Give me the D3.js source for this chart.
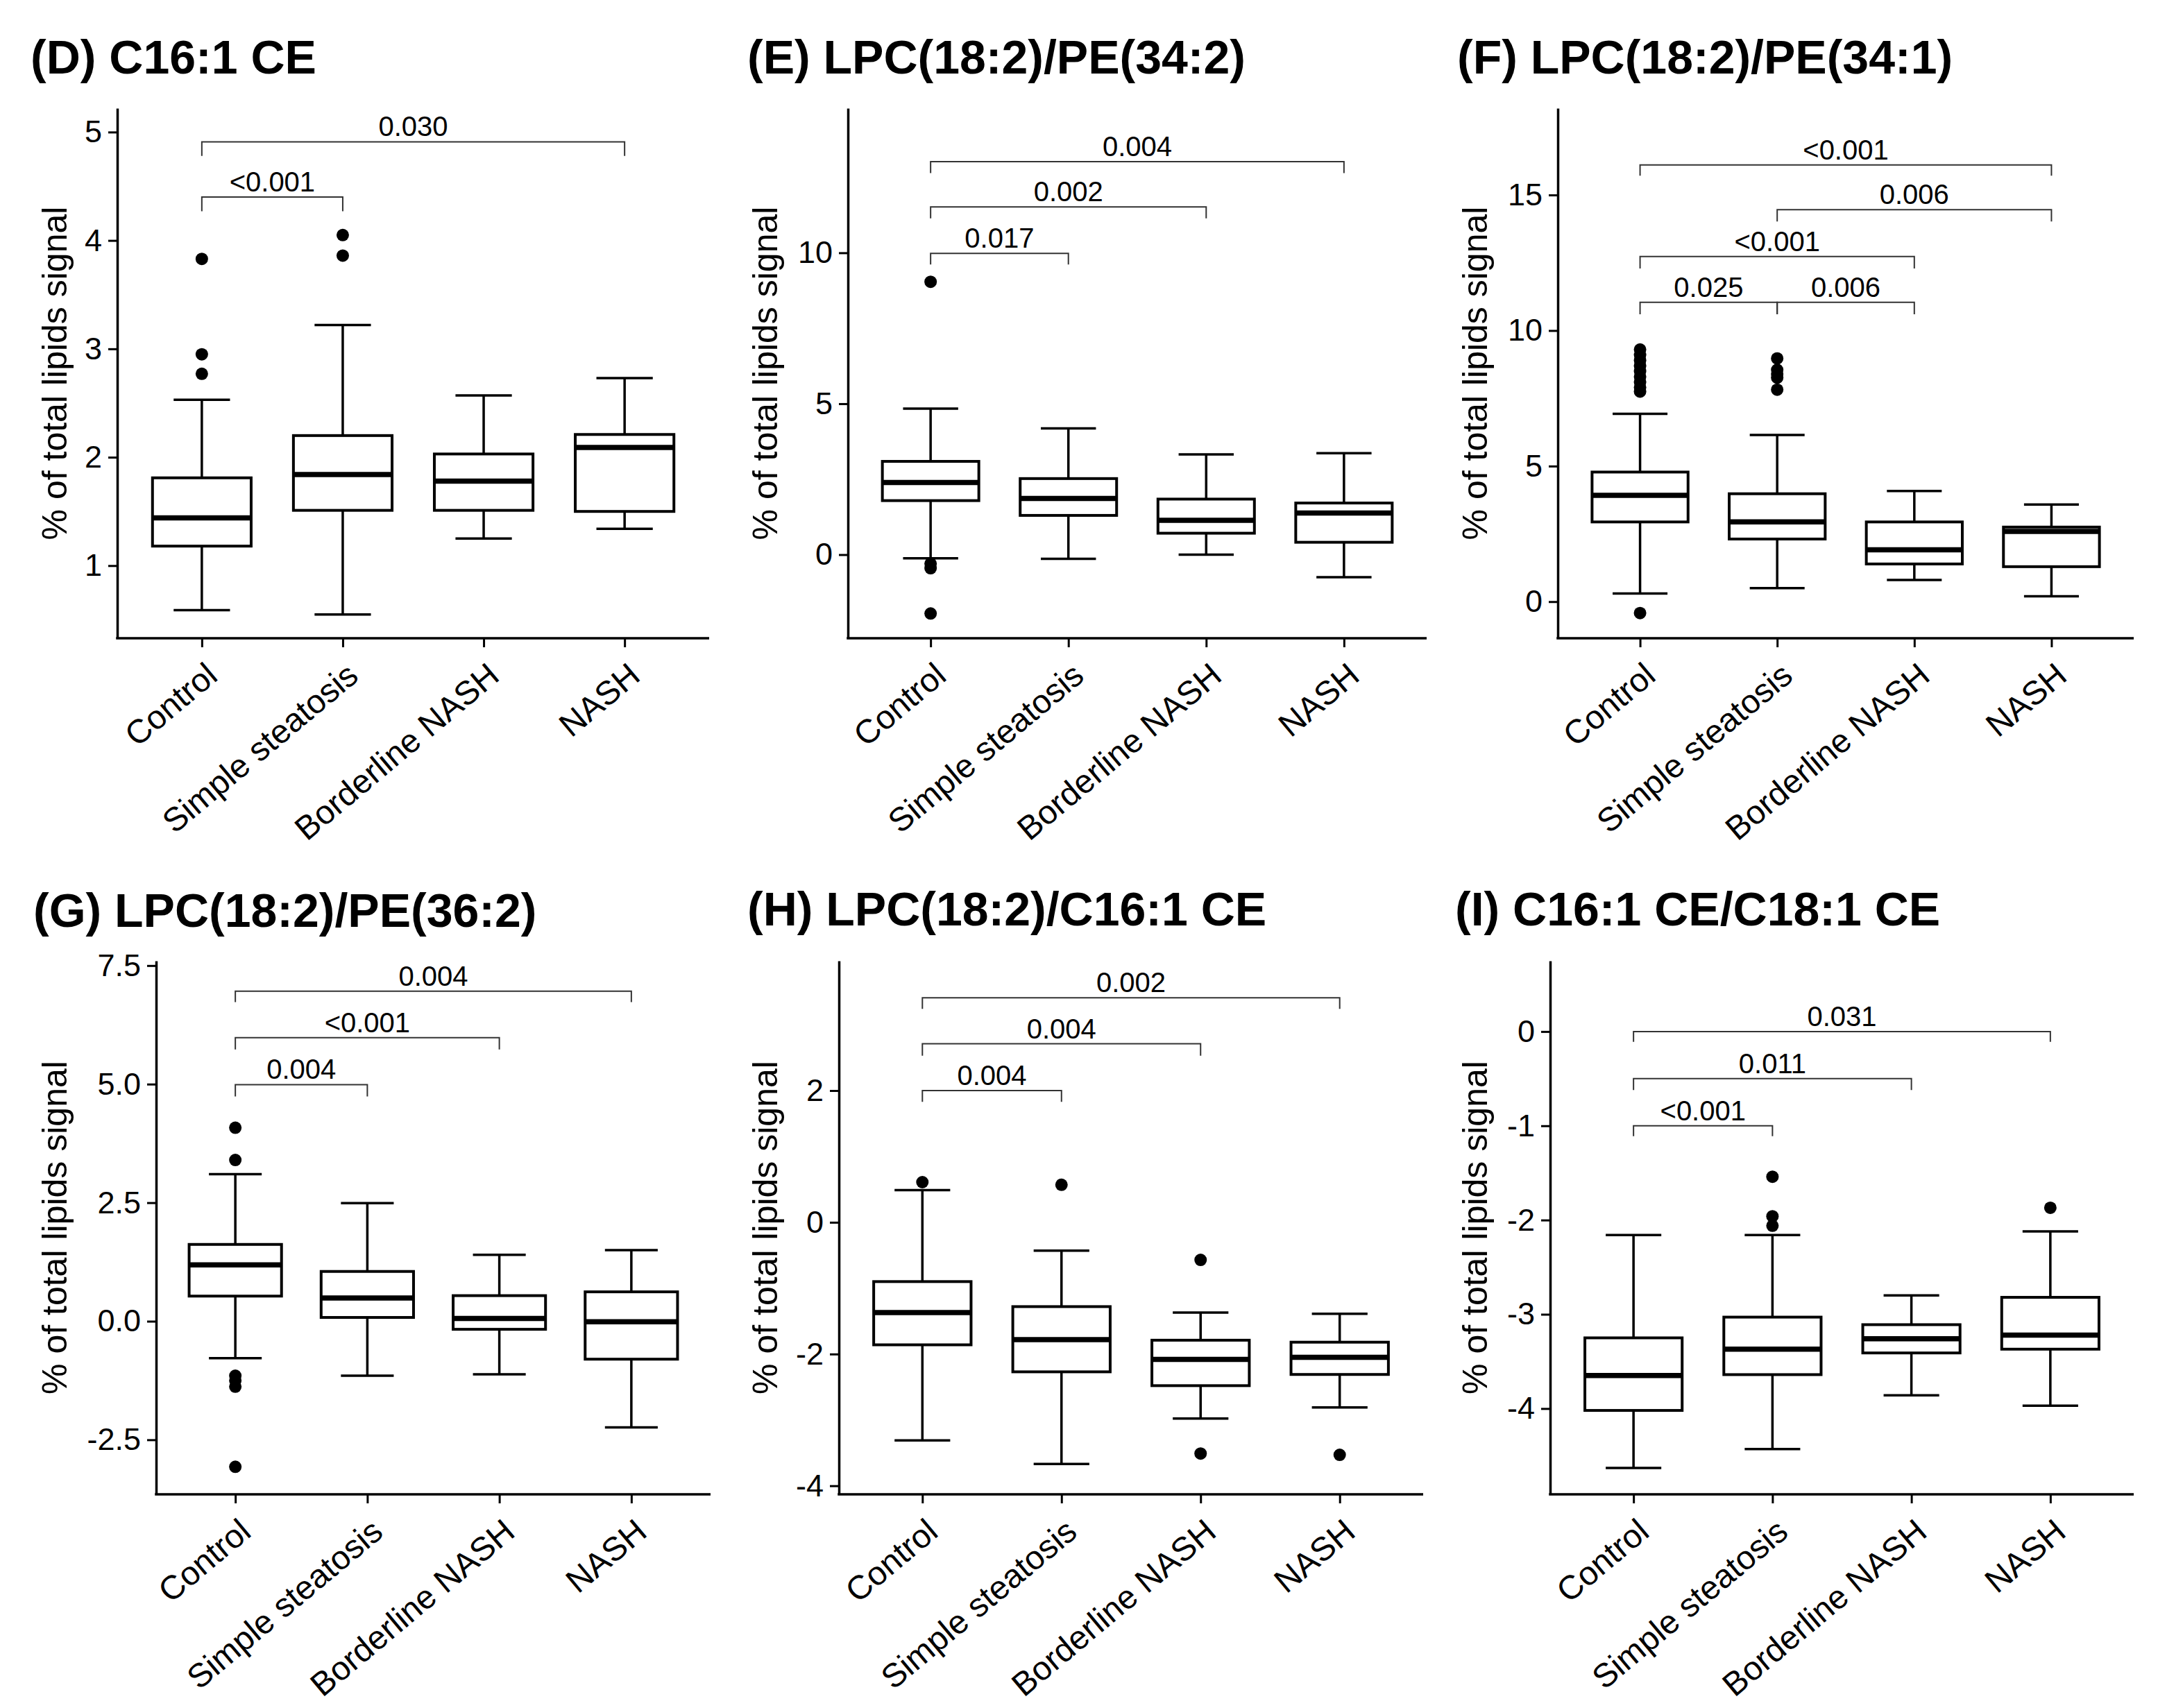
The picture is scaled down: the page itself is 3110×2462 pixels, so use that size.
<!DOCTYPE html>
<html>
<head>
<meta charset="utf-8">
<script src="https://cdn.jsdelivr.net/npm/d3@7"></script>
<style>
  body { margin: 0; background: #fff; }
  svg { display: block; font-family: "Liberation Sans", Arial, sans-serif; }
</style>
</head>
<body>
<svg id="chart" width="3110" height="2462"></svg>
<script>
const groups = ["Control", "Simple steatosis", "Borderline NASH", "NASH"];

// box stats per group: [lower whisker, Q1, median, Q3, upper whisker]
// brackets: [from group, to group, bar value, tip value, label]

// (D) C16:1 CE
const statsD = [[0.59, 1.18, 1.44, 1.81, 2.53], [0.55, 1.51, 1.84, 2.20, 3.22], [1.25, 1.51, 1.78, 2.03, 2.57], [1.34, 1.50, 2.09, 2.21, 2.73]];
const outliersD = [[3.83, 2.95, 2.77], [4.05, 3.86], [], []];
const ticksD = [1, 2, 3, 4, 5];
const domainD = [0.33, 5.22];
const bracketsD = [[0, 3, 4.91, 4.78, "0.030"], [0, 1, 4.40, 4.27, "<0.001"]];

// (E) LPC(18:2)/PE(34:2)
const statsE = [[-0.12, 1.79, 2.39, 3.09, 4.84], [-0.14, 1.30, 1.86, 2.52, 4.18], [0.0, 0.71, 1.14, 1.84, 3.32], [-0.75, 0.41, 1.38, 1.71, 3.36]];
const outliersE = [[9.04, -0.30, -0.45, -1.95], [], [], []];
const ticksE = [0, 5, 10];
const domainE = [-2.77, 14.79];
const bracketsE = [[0, 3, 13.02, 12.64, "0.004"], [0, 2, 11.52, 11.14, "0.002"], [0, 1, 9.98, 9.61, "0.017"]];

// (F) LPC(18:2)/PE(34:1)
const statsF = [[0.30, 2.94, 3.92, 4.78, 6.93], [0.50, 2.31, 2.94, 3.98, 6.15], [0.80, 1.39, 1.91, 2.94, 4.08], [0.20, 1.29, 2.59, 2.75, 3.58]];
const outliersF = [[9.3, 9.1, 8.9, 8.7, 8.5, 8.3, 8.1, 7.9, 7.75, -0.42], [8.97, 8.55, 8.4, 8.26, 7.82], [], []];
const ticksF = [0, 5, 10, 15];
const domainF = [-1.35, 18.2];
const bracketsF = [[0, 3, 16.11, 15.71, "<0.001"], [1, 3, 14.46, 14.02, "0.006"], [0, 2, 12.73, 12.29, "<0.001"], [0, 1, 11.04, 10.6, "0.025"], [1, 2, 11.04, 10.6, "0.006"]];

// (G) LPC(18:2)/PE(36:2)
const statsG = [[-0.78, 0.53, 1.19, 1.62, 3.10], [-1.15, 0.08, 0.49, 1.05, 2.49], [-1.12, -0.17, 0.06, 0.54, 1.40], [-2.24, -0.80, -0.01, 0.62, 1.50]];
const outliersG = [[4.08, 3.40, -1.15, -1.25, -1.38, -3.07], [], [], []];
const ticksG = [-2.5, 0, 2.5, 5, 7.5];
const domainG = [-3.65, 7.6];
const bracketsG = [[0, 3, 6.96, 6.73, "0.004"], [0, 2, 5.98, 5.73, "<0.001"], [0, 1, 4.99, 4.74, "0.004"]];

// (H) LPC(18:2)/C16:1 CE
const statsH = [[-3.31, -1.86, -1.37, -0.90, 0.49], [-3.67, -2.27, -1.78, -1.28, -0.43], [-2.98, -2.48, -2.08, -1.79, -1.37], [-2.81, -2.31, -2.05, -1.82, -1.39]];
const outliersH = [[0.61], [0.57], [-0.57, -3.51], [-3.53]];
const ticksH = [-4, -2, 0, 2];
const domainH = [-4.13, 3.97];
const bracketsH = [[0, 3, 3.41, 3.24, "0.002"], [0, 2, 2.71, 2.53, "0.004"], [0, 1, 2.0, 1.83, "0.004"]];

// (I) C16:1 CE/C18:1 CE
const statsI = [[-4.63, -4.02, -3.65, -3.25, -2.16], [-4.43, -3.64, -3.37, -3.03, -2.16], [-3.86, -3.41, -3.26, -3.11, -2.80], [-3.97, -3.37, -3.22, -2.82, -2.12]];
const outliersI = [[], [-1.54, -1.96, -2.06], [], [-1.87]];
const ticksI = [-4, -3, -2, -1, 0];
const domainI = [-4.91, 0.75];
const bracketsI = [[0, 3, 0.0, -0.11, "0.031"], [0, 2, -0.50, -0.62, "0.011"], [0, 1, -1.0, -1.11, "<0.001"]];

const panels = [
  { title: "(D) C16:1 CE", stats: statsD, outliers: outliersD, ticks: ticksD, domain: domainD, brackets: bracketsD, fmt: d3.format("d"),
    x0: 169, x1: 1022, y0: 156, y1: 920, titleX: 44, titleY: 106, labelX: 79 },
  { title: "(E) LPC(18:2)/PE(34:2)", stats: statsE, outliers: outliersE, ticks: ticksE, domain: domainE, brackets: bracketsE, fmt: d3.format("d"),
    x0: 1222, x1: 2056, y0: 156, y1: 920, titleX: 1077, titleY: 106, labelX: 1103 },
  { title: "(F) LPC(18:2)/PE(34:1)", stats: statsF, outliers: outliersF, ticks: ticksF, domain: domainF, brackets: bracketsF, fmt: d3.format("d"),
    x0: 2245, x1: 3075, y0: 156, y1: 920, titleX: 2100, titleY: 106, labelX: 2126 },
  { title: "(G) LPC(18:2)/PE(36:2)", stats: statsG, outliers: outliersG, ticks: ticksG, domain: domainG, brackets: bracketsG, fmt: d3.format(".1f"),
    x0: 225, x1: 1024, y0: 1385, y1: 2154, titleX: 48, titleY: 1336, labelX: 79 },
  { title: "(H) LPC(18:2)/C16:1 CE", stats: statsH, outliers: outliersH, ticks: ticksH, domain: domainH, brackets: bracketsH, fmt: d3.format("d"),
    x0: 1209, x1: 2051, y0: 1385, y1: 2154, titleX: 1077, titleY: 1334, labelX: 1103 },
  { title: "(I) C16:1 CE/C18:1 CE", stats: statsI, outliers: outliersI, ticks: ticksI, domain: domainI, brackets: bracketsI, fmt: d3.format("d"),
    x0: 2234, x1: 3075, y0: 1385, y1: 2154, titleX: 2097, titleY: 1334, labelX: 2126 }
];

const svg = d3.select("#chart");
svg.append("rect").attr("width", 3110).attr("height", 2462).attr("fill", "white");

const drawPanel = (p) => {
  const g = svg.append("g");

  const x = d3.scalePoint().domain(groups).range([p.x0, p.x1]).padding(0.6);
  const y = d3.scaleLinear().domain(p.domain).range([p.y1, p.y0]);
  const step = x.step();
  const boxW = step * 0.70;
  const capW = step * 0.40;

  g.append("text")
    .attr("x", p.titleX)
    .attr("y", p.titleY)
    .attr("font-size", 68)
    .attr("font-weight", "bold")
    .attr("fill", "#000")
    .text(p.title);

  // brackets
  p.brackets.forEach(([a, b, bar, tip, label]) => {
    const xa = x(groups[a]), xb = x(groups[b]);
    g.append("path")
      .attr("d", `M${xa},${y(tip)}V${y(bar)}H${xb}V${y(tip)}`)
      .attr("fill", "none")
      .attr("stroke", "#333")
      .attr("stroke-width", 2);
    g.append("text")
      .attr("x", (xa + xb) / 2)
      .attr("y", y(bar) - 8)
      .attr("text-anchor", "middle")
      .attr("font-size", 40)
      .attr("fill", "#000")
      .text(label);
  });

  const boxes = g.selectAll("g.box")
    .data(p.stats.map((s, i) => ({ name: groups[i], s: s, out: p.outliers[i] })))
    .join("g")
    .attr("class", "box");

  boxes.append("line")
    .attr("x1", d => x(d.name)).attr("x2", d => x(d.name))
    .attr("y1", d => y(d.s[0])).attr("y2", d => y(d.s[4]))
    .attr("stroke", "#000").attr("stroke-width", 3.5);

  boxes.selectAll("line.cap")
    .data(d => [d.s[0], d.s[4]].map(v => ({ name: d.name, v })))
    .join("line")
    .attr("class", "cap")
    .attr("x1", d => x(d.name) - capW / 2).attr("x2", d => x(d.name) + capW / 2)
    .attr("y1", d => y(d.v)).attr("y2", d => y(d.v))
    .attr("stroke", "#000").attr("stroke-width", 3.5);

  boxes.append("rect")
    .attr("x", d => x(d.name) - boxW / 2)
    .attr("width", boxW)
    .attr("y", d => y(d.s[3]))
    .attr("height", d => y(d.s[1]) - y(d.s[3]))
    .attr("fill", "white")
    .attr("stroke", "#000").attr("stroke-width", 4);

  boxes.append("line")
    .attr("x1", d => x(d.name) - boxW / 2).attr("x2", d => x(d.name) + boxW / 2)
    .attr("y1", d => y(d.s[2])).attr("y2", d => y(d.s[2]))
    .attr("stroke", "#000").attr("stroke-width", 7.5);

  boxes.selectAll("circle")
    .data(d => d.out.map(v => ({ name: d.name, v })))
    .join("circle")
    .attr("cx", d => x(d.name))
    .attr("cy", d => y(d.v))
    .attr("r", 9)
    .attr("fill", "#000");

  // axes
  const yAxis = g.append("g")
    .attr("transform", `translate(${p.x0},0)`)
    .call(d3.axisLeft(y).tickValues(p.ticks).tickSize(13).tickSizeOuter(0).tickPadding(9)
      .tickFormat(d => p.fmt(d).replace("\u2212", "-")));
  yAxis.select(".domain").attr("stroke", "#000").attr("stroke-width", 3.5);
  yAxis.selectAll(".tick line").attr("stroke", "#000").attr("stroke-width", 3);
  yAxis.selectAll(".tick text").attr("font-size", 45).attr("fill", "#000").attr("font-family", null);

  const xAxis = g.append("g")
    .attr("transform", `translate(0,${p.y1})`)
    .call(d3.axisBottom(x).tickSize(13).tickSizeOuter(0).tickFormat(""));
  xAxis.select(".domain").attr("stroke", "#000").attr("stroke-width", 3.5)
    .attr("d", `M${p.x0 - 1.75},0H${p.x1}`);
  xAxis.selectAll(".tick line").attr("stroke", "#000").attr("stroke-width", 3);

  g.selectAll("text.xlab")
    .data(groups)
    .join("text")
    .attr("class", "xlab")
    .attr("transform", d => `translate(${x(d) + 3},${p.y1 + 32}) rotate(-40)`)
    .attr("text-anchor", "end")
    .attr("dy", "0.72em")
    .attr("font-size", 48)
    .attr("fill", "#000")
    .text(d => d);

  g.append("text")
    .attr("transform", `translate(${p.labelX},${(p.y0 + p.y1) / 2}) rotate(-90)`)
    .attr("text-anchor", "middle")
    .attr("dominant-baseline", "central")
    .attr("font-size", 50)
    .attr("fill", "#000")
    .text("% of total lipids signal");
};

panels.forEach(drawPanel);
</script>
</body>
</html>
